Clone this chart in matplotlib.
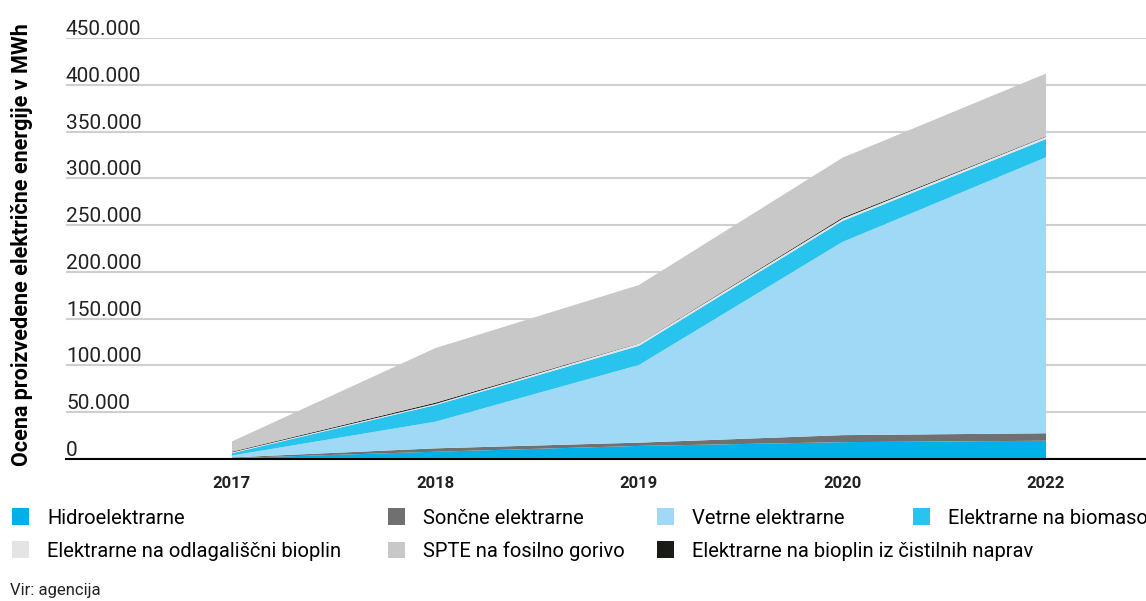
import numpy as np
import matplotlib
matplotlib.use('Agg')
import matplotlib.pyplot as plt
from matplotlib.patches import Patch
import matplotlib.transforms as mtransforms

plt.rcParams['font.family'] = ['Roboto', 'DejaVu Sans']

years = ['2017', '2018', '2019', '2020', '2022']

# MWh per source, bottom to top of the stack
hidro = [1000, 7800, 14000, 18000, 19500]
sonce = [700, 3600, 3500, 7500, 8000]
veter = [2000, 28500, 83000, 206500, 295000]
biomasa = [2500, 17800, 20500, 22500, 19500]
odlagalisce = [900, 1200, 2500, 2300, 2500]
cistilne = [700, 1300, 300, 1200, 500]
spte = [11000, 58400, 62200, 64000, 67000]

yticks = [0, 50000, 100000, 150000, 200000, 250000, 300000, 350000, 400000, 450000]
ytick_labels = ['0', '50.000', '100.000', '150.000', '200.000', '250.000',
                '300.000', '350.000', '400.000', '450.000']

c_hidro = '#00b1e9'
c_sonce = '#707070'
c_veter = '#a0d9f5'
c_biomasa = '#29c4ee'
c_odlag = '#e4e4e4'
c_cist = '#1a1a17'
c_spte = '#c8c8c8'

fig = plt.figure(figsize=(11.46, 6.01), dpi=100)
ax = fig.add_axes([66/1146, 1-459/601, 1-66/1146, (459-38)/601])

x = np.arange(len(years))
ax.stackplot(x, hidro, sonce, veter, biomasa, odlagalisce, cistilne, spte,
             colors=[c_hidro, c_sonce, c_veter, c_biomasa, c_odlag, c_cist, c_spte],
             linewidth=0, zorder=2)

ax.set_xlim((66-232)/203.5, (1146-232)/203.5)
ax.set_ylim(0, 450000)

ax.set_yticks(yticks)
ax.set_yticklabels([])
ax.tick_params(axis='y', length=0)
ax.grid(axis='y', color='#cfcfcf', linewidth=1.5, zorder=0)
ax.set_axisbelow(True)

# y labels sit above the gridlines, left aligned
trans = mtransforms.blended_transform_factory(ax.transAxes, ax.transData)
off = mtransforms.ScaledTranslation(0, 3/100, fig.dpi_scale_trans)
for v, lab in zip(yticks, ytick_labels):
    ax.text(0, v, lab, transform=trans+off, ha='left', va='baseline',
            fontsize=15, color='#222222')

ax.set_xticks(x)
ax.set_xticklabels(years, fontsize=12, fontweight='bold', color='#222222')
ax.tick_params(axis='x', length=0, pad=12)

for s in ['top', 'right', 'left']:
    ax.spines[s].set_visible(False)
ax.spines['bottom'].set_color('black')
ax.spines['bottom'].set_linewidth(1.5)
ax.spines['bottom'].set_zorder(3)

fig.text(22/1146, 1-245/601, 'Ocena proizvedene električne energije v MWh',
         rotation=90, ha='center', va='center', fontsize=15.5, fontweight='bold')

# legend items placed one by one
items = [
    ('Hidroelektrarne', c_hidro, 12, 518),
    ('Sončne elektrarne', c_sonce, 388, 518),
    ('Vetrne elektrarne', c_veter, 657, 518),
    ('Elektrarne na biomaso', c_biomasa, 913, 518),
    ('Elektrarne na odlagališčni bioplin', c_odlag, 12, 551),
    ('SPTE na fosilno gorivo', c_spte, 388, 551),
    ('Elektrarne na bioplin iz čistilnih naprav', c_cist, 657, 551),
]
for lab, col, px, py in items:
    fig.legend(handles=[Patch(facecolor=col, edgecolor='none')], labels=[lab],
               loc='center left', bbox_to_anchor=(px/1146, 1-py/601),
               frameon=False, fontsize=14.5, handlelength=0.85, handleheight=0.85,
               handletextpad=0.9, borderpad=0, borderaxespad=0)

fig.text(10/1146, 1-590/601, 'Vir: agencija', ha='left', va='center',
         fontsize=12, color='#222222')

plt.savefig('out.png', dpi=100)
